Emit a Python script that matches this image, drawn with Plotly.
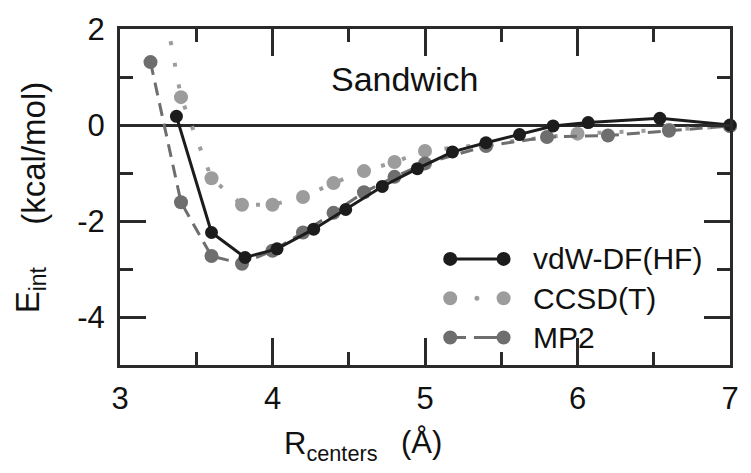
import plotly.graph_objects as go

# Benzene dimer, sandwich geometry: interaction energy vs. ring-centre separation
vdw_r = [3.37, 3.60, 3.82, 4.03, 4.27, 4.48, 4.72, 4.95, 5.18, 5.40, 5.62, 5.84, 6.07, 6.54, 7.00]
vdw_e = [0.18, -2.24, -2.76, -2.58, -2.17, -1.76, -1.28, -0.91, -0.56, -0.37, -0.20, -0.02, 0.05, 0.14, 0.00]

ccsdt_r = [3.2, 3.4, 3.6, 3.8, 4.0, 4.2, 4.4, 4.6, 4.8, 5.0, 5.4, 6.0, 6.6, 7.0]
ccsdt_e = [4.0, 0.58, -1.11, -1.66, -1.66, -1.50, -1.21, -0.96, -0.77, -0.54, -0.40, -0.18, -0.10, -0.02]

mp2_r = [3.2, 3.4, 3.6, 3.8, 4.0, 4.2, 4.4, 4.6, 4.8, 5.0, 5.4, 5.8, 6.2, 6.6, 7.0]
mp2_e = [1.31, -1.61, -2.73, -2.89, -2.62, -2.24, -1.83, -1.40, -1.08, -0.80, -0.44, -0.25, -0.22, -0.12, -0.02]

series_names = ["vdW-DF(HF)", "CCSD(T)", "MP2"]
x_ticks = [3, 4, 5, 6, 7]
x_labels = ["3", "4", "5", "6", "7"]
x_minor = [3.5, 4.5, 5.5, 6.5]
y_ticks = [-4, -2, 0, 2]
y_labels = ["-4", "-2", "0", "2"]
y_minor = [-5, -3, -1, 1]

BLACK = "#1c1c1c"
LIGHT = "#9c9c9c"
MID = "#6e6e6e"
FRAME = "#2a2a2a"
FONT = "Liberation Sans, Arial, sans-serif"

W, H = 751, 473
ML, MR, MT, MB = 120, 14, 23, 108
PW, PH = W - ML - MR, H - MT - MB
X_RANGE = [3, 7]
Y_RANGE = [-5, 2]

fig = go.Figure()

fig.add_trace(go.Scatter(
    x=ccsdt_r, y=ccsdt_e, mode="lines+markers", name=series_names[1],
    line=dict(color=LIGHT, width=4, dash="4px,18px"),
    marker=dict(size=14, color=LIGHT), cliponaxis=False, showlegend=False))
fig.add_trace(go.Scatter(
    x=mp2_r, y=mp2_e, mode="lines+markers", name=series_names[2],
    line=dict(color=MID, width=3, dash="13px,8px"),
    marker=dict(size=14, color=MID), cliponaxis=False, showlegend=False))
fig.add_trace(go.Scatter(
    x=vdw_r, y=vdw_e, mode="lines+markers", name=series_names[0],
    line=dict(color=BLACK, width=3),
    marker=dict(size=13, color=BLACK), cliponaxis=False, showlegend=False))


def px_to_paper(px, py):
    return (px - ML) / PW, (H - MB - py) / PH


shapes = []
annotations = []

# hand-built legend: a line segment with a marker at each end
legend_rows = [(257, BLACK, None, 3, series_names[0]),
               (297, LIGHT, "dot", 4, series_names[1]),
               (337, MID, "dash", 3, series_names[2])]
for py, col, dash, lw, label in legend_rows:
    xa, ya = px_to_paper(454, py)
    xb, _ = px_to_paper(508, py)
    if dash is None:
        shapes.append(dict(type="line", xref="paper", yref="paper", x0=xa, x1=xb, y0=ya, y1=ya,
                           line=dict(color=col, width=lw)))
    elif dash == "dot":
        xm, _ = px_to_paper(481, py)
        shapes.append(dict(type="circle", xref="paper", yref="paper", xsizemode="pixel",
                           ysizemode="pixel", xanchor=xm, yanchor=ya, x0=-2.5, x1=2.5, y0=-2.5, y1=2.5,
                           fillcolor=col, line=dict(width=0)))
    else:
        xd1, _ = px_to_paper(470, py)
        xd2, _ = px_to_paper(478, py)
        shapes.append(dict(type="line", xref="paper", yref="paper", x0=xa, x1=xd1, y0=ya, y1=ya,
                           line=dict(color=col, width=lw)))
        shapes.append(dict(type="line", xref="paper", yref="paper", x0=xd2, x1=xb, y0=ya, y1=ya,
                           line=dict(color=col, width=lw)))
    for xx in (xa, xb):
        shapes.append(dict(type="circle", xref="paper", yref="paper", xsizemode="pixel",
                           ysizemode="pixel", xanchor=xx, yanchor=ya, x0=-7, x1=7, y0=-7, y1=7,
                           fillcolor=col, line=dict(width=0)))
    tx, ty = px_to_paper(536, py)
    annotations.append(dict(text=label, xref="paper", yref="paper", x=tx, y=ty,
                            xanchor="left", yanchor="middle", showarrow=False,
                            font=dict(size=30, color="#111111", family=FONT)))

# panel label
sx, sy = px_to_paper(408, 74)
annotations.append(dict(text="Sandwich", xref="paper", yref="paper", x=sx, y=sy,
                        xanchor="center", yanchor="middle", showarrow=False,
                        font=dict(size=34, color="#111111", family=FONT)))

# axis titles
rx, ry = px_to_paper(284, 447)
annotations.append(dict(text="R<sub>centers</sub>", xref="paper", yref="paper", x=rx, y=ry,
                        xanchor="left", yanchor="middle", showarrow=False,
                        font=dict(size=31, color="#111111", family=FONT)))
ax_, ay_ = px_to_paper(425, 444)
annotations.append(dict(text="(Å)", xref="paper", yref="paper", x=ax_, y=ay_,
                        xanchor="center", yanchor="middle", showarrow=False,
                        font=dict(size=31, color="#111111", family=FONT)))
ex, ey = px_to_paper(29, 289)
annotations.append(dict(text="E<sub>int</sub>", xref="paper", yref="paper", x=ex, y=ey,
                        xanchor="center", yanchor="middle", textangle=-90, showarrow=False,
                        font=dict(size=33, color="#111111", family=FONT)))
kx, ky = px_to_paper(33, 149)
annotations.append(dict(text="(kcal/mol)", xref="paper", yref="paper", x=kx, y=ky,
                        xanchor="center", yanchor="middle", textangle=-90, showarrow=False,
                        font=dict(size=33, color="#111111", family=FONT)))

fig.update_layout(
    width=W, height=H,
    margin=dict(l=ML, r=MR, t=MT, b=MB),
    paper_bgcolor="white", plot_bgcolor="white",
    font=dict(family=FONT, color="#111111"),
    shapes=shapes, annotations=annotations,
    showlegend=False,
)
# inward ticks on all four sides: long at the labelled values, short in between
fig.update_xaxes(
    range=X_RANGE, tickmode="array", tickvals=x_ticks, ticktext=x_labels,
    ticks="inside", ticklen=27, tickwidth=2.5, tickcolor=FRAME,
    minor=dict(tickmode="array", tickvals=x_minor, ticks="inside", ticklen=13,
               tickwidth=2.5, tickcolor=FRAME),
    ticklabelstandoff=4,
    showline=True, linewidth=3, linecolor=FRAME, mirror="allticks",
    showgrid=False, zeroline=False, tickfont=dict(size=31, family=FONT),
)
fig.update_yaxes(
    range=Y_RANGE, tickmode="array", tickvals=y_ticks, ticktext=y_labels,
    ticks="inside", ticklen=26, tickwidth=2.5, tickcolor=FRAME,
    minor=dict(tickmode="array", tickvals=y_minor, ticks="inside", ticklen=13,
               tickwidth=2.5, tickcolor=FRAME),
    ticklabelstandoff=6,
    showline=True, linewidth=3, linecolor=FRAME, mirror="allticks",
    showgrid=False, zeroline=True, zerolinewidth=3, zerolinecolor=FRAME,
    tickfont=dict(size=31, family=FONT),
)

fig.write_html("out.html")
